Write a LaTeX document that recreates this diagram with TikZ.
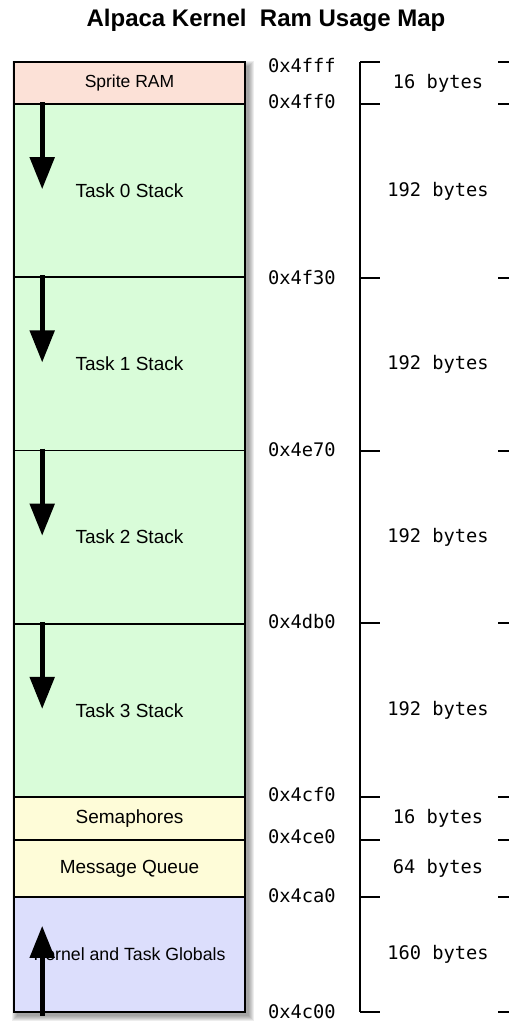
\documentclass[tikz,border=0pt]{standalone}
\usepackage{fontspec}
\setmainfont{Liberation Sans}
\setmonofont{DejaVu Sans Mono}
\usetikzlibrary{arrows.meta}
\definecolor{spritepink}{RGB}{252,225,215}
\definecolor{stackgreen}{RGB}{217,252,217}
\definecolor{queueyellow}{RGB}{254,252,216}
\definecolor{globalblue}{RGB}{220,222,252}
\tikzstyle{seg} = [draw, line width=1.6pt, minimum width=231pt, inner sep=0pt, font=\fontsize{19}{22}\selectfont]
\tikzstyle{stackarrow} = [line width=5pt, -{Triangle[length=32pt,width=24pt]}]
\tikzstyle{addr} = [anchor=west, inner sep=0pt, font=\ttfamily\fontsize{18.7}{22}\selectfont]
\tikzstyle{size} = [inner sep=0pt, font=\ttfamily\fontsize{18.7}{22}\selectfont]
\tikzstyle{tick} = [line width=1.3pt]

\begin{document}
\begin{tikzpicture}[x=1pt,y=-1pt]
    \useasboundingbox (0,0) rectangle (509,1024);
    \node[font=\bfseries\fontsize{24}{28}\selectfont] (title) at (266,20) {Alpaca Kernel\ \ Ram Usage Map};
    % soft shadow under the column
    \foreach \k in {0,...,5}
      \fill[black, opacity=0.07] (17-\k,66-\k) rectangle (249+\k,1016+\k);
    \node[seg, fill=spritepink, minimum height=42pt, font=\fontsize{17.5}{20}\selectfont] (sprite) at (129.5,83) {Sprite RAM};
    \foreach \i in {0,...,3} {
      \node[seg, fill=stackgreen, minimum height=173.25pt] (task\i) at (129.5,{104+173.25*\i+86.625}) {Task \i\ Stack};
      \draw[stackarrow] (task\i.north west) ++(29,-1) -- ++(0,87);
    }
    \node[seg, fill=queueyellow, minimum height=43pt] (sema) at (129.5,818.5) {Semaphores};
    \node[seg, fill=queueyellow, minimum height=57pt] (queue) at (129.5,868.5) {Message Queue};
    \node[seg, fill=globalblue, minimum height=115pt, font=\fontsize{17.7}{20}\selectfont] (globals) at (129.5,954.5) {Kernel and Task Globals};
    \draw[stackarrow] (globals.south west) ++(29,3) -- ++(0,-90);
    % address scale
    \draw[tick] (360,62) -- (360,1012);
    \foreach \y in {62,104,278,451,623,797,840,897,1012} {
      \draw[tick] (360,\y) -- (380,\y);
      \draw[tick] (498,\y) -- (509,\y);
    }
    \foreach \a/\y in {4fff/66,4ff0/102,4f30/278,4e70/450,4db0/622,4cf0/795,4ce0/837,4ca0/896,4c00/1012}
      \node[addr] (a\a) at (268,\y) {0x\a};
    \foreach \s/\y in {16/83,192/191,192/364,192/537,192/710,16/818,64/868,160/954}
      \node[size] at (438,\y) {\s\ bytes};
\end{tikzpicture}
\end{document}
